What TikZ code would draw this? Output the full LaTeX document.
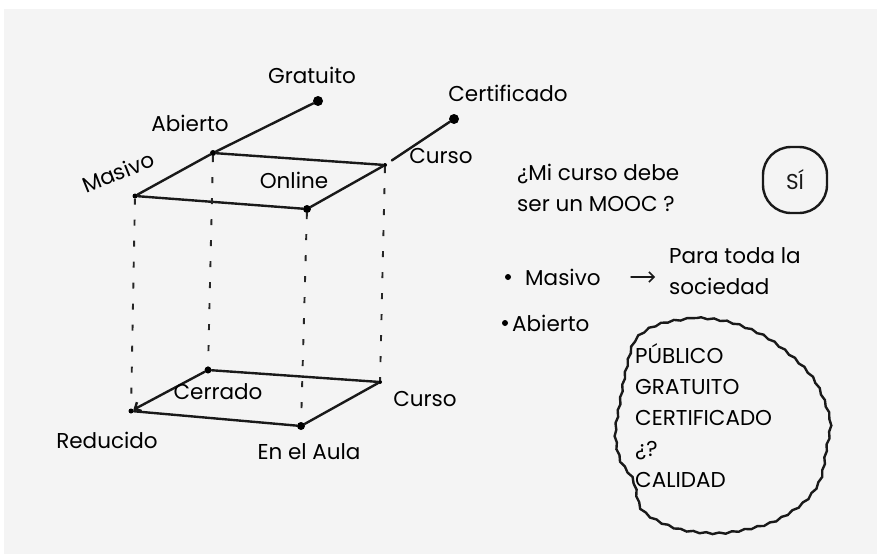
\documentclass[tikz,border=0pt]{standalone}
\usepackage{fontspec}
\setmainfont{Poppins}
\usetikzlibrary{arrows.meta, positioning, decorations.pathmorphing}
\definecolor{paper}{HTML}{F4F4F4}
\tikzset{
    edge/.style={line width=2.4pt, black!90, line cap=round},
    hidden/.style={line width=1.9pt, black!85, dash pattern=on 6pt off 15pt},
    corner/.style={circle, fill=black, inner sep=0pt, minimum size=5pt},
    bigdot/.style={circle, fill=black, inner sep=0pt, minimum size=10pt},
    lbl/.style={font=\fontsize{21.5}{25}\selectfont, inner sep=1pt},
}

\begin{document}
\begin{tikzpicture}[x=1pt, y=-1pt,
  multi/.style={lbl, anchor=west, align=left, font=\fontsize{21.5}{31}\selectfont},
  sibox/.style={edge, draw, rounded corners=28pt, minimum width=64pt, minimum height=66pt, font=\fontsize{21.5}{25}\selectfont}
]
\useasboundingbox (0,0) rectangle (877,554);
\fill[white] (0,0) rectangle (877,554);
\fill[paper] (4,9) rectangle (877,554);

% top face (Online)
\node[corner] (masivo) at (135,196) {};
\node[corner, minimum size=6pt] (abierto) at (213,153) {};
\node[corner, minimum size=4pt] (curso) at (385,165) {};
\node[corner, minimum size=8pt] (online) at (307,209) {};
\node[bigdot] (gratuito) at (318,101) {};
\node[bigdot] (certificado) at (454,119) {};

% bottom face (En el Aula)
\node[corner] (reducido) at (131,411) {};
\node[corner, minimum size=7pt] (cerrado) at (208,370) {};
\node[corner, minimum size=4pt] (cursob) at (380,382) {};
\node[corner, minimum size=8pt] (aula) at (301,426) {};

\draw[edge] (masivo) -- (abierto) -- (gratuito);
\draw[edge] (abierto) -- (curso) -- (online) -- (masivo);
\draw[edge, shorten <=6pt] (curso) -- (certificado);
\draw[edge, -{Straight Barb[length=5pt]}] (cerrado) -- (reducido);
\draw[edge] (reducido) -- (aula) -- (cursob) -- (cerrado);

\draw[hidden] (masivo) -- (reducido);
\draw[hidden] (abierto) -- (cerrado);
\draw[hidden] (online) -- (aula);
\draw[hidden] (curso) -- (cursob);

\node[lbl, rotate=22] (tmasivo) at (118,172) {Masivo};
\node[lbl] (tabierto) at (190,123) {Abierto};
\node[lbl] (tgratuito) at (312,75) {Gratuito};
\node[lbl] (tcertificado) at (508,93) {Certificado};
\node[lbl] (tcurso) at (441,156) {Curso};
\node[lbl] (tonline) at (294,180) {Online};
\node[lbl] (tcerrado) at (218,392) {Cerrado};
\node[lbl] (tcursob) at (425,399) {Curso};
\node[lbl] (treducido) at (107,440) {Reducido};
\node[lbl] (taula) at (309,452) {En el Aula};

% right side notes
\node[multi] (pregunta) at (516,188) {¿Mi curso debe\\ser un MOOC ?};
\node[sibox] (si) at (795,180) {SÍ};
\node[corner, minimum size=6pt] (bala1) at (508,277) {};
\node[lbl, anchor=west] (masivob) at (524,277) {Masivo};
\node[multi] (para) at (668,271) {Para toda la\\sociedad};
\node[corner, minimum size=6pt] (bala2) at (505,323) {};
\node[lbl, anchor=west] (abiertob) at (511,323) {Abierto};
\coordinate (flecha) at (631,277);
\draw[edge, line width=1.5pt, -{Straight Barb[length=5pt]}, shorten >=13pt] (flecha) -- (flecha -| para.west);

\node[multi] (lista) at (634,416) {PÚBLICO\\GRATUITO\\CERTIFICADO\\¿?\\CALIDAD};
\draw[edge, decorate, decoration={snake, amplitude=0.8pt, segment length=13pt}]
  plot[smooth cycle] coordinates {(663,322) (697,318) (730,323) (763,337) (793,360) (813,383) (827,420) (823,450) (817,480) (800,503) (767,523) (720,533) (680,530) (653,520) (637,507) (630,480) (617,460) (612,433) (617,400) (622,373) (630,343) (643,330)};
\end{tikzpicture}
\end{document}
